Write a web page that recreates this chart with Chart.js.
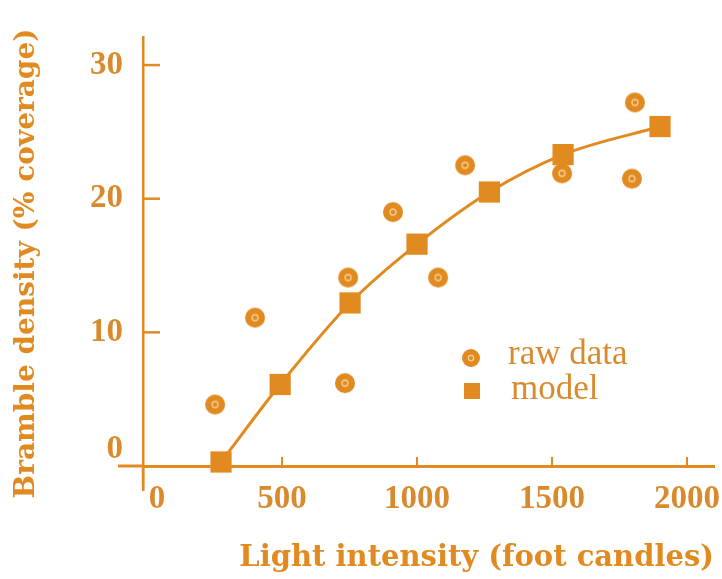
<!DOCTYPE html>
<html>
<head>
<meta charset="utf-8">
<script src="https://cdn.jsdelivr.net/npm/chart.js@4/dist/chart.umd.min.js"></script>
<style>
  html, body { margin: 0; padding: 0; background: #ffffff; }
  #wrap { width: 722px; height: 579px; position: relative; }
</style>
</head>
<body>
<div id="wrap"><canvas id="c" width="722" height="579"></canvas></div>
<script>
// ---- data ----
const rawX   = [252, 400, 745, 733, 911, 1078, 1178, 1537, 1807, 1796];
const rawY   = [4.6, 11.1, 14.1, 6.2, 19.0, 14.1, 22.5, 21.9, 27.2, 21.5];
const modelX = [274, 493, 752, 1000, 1268, 1541, 1900];
const modelY = [0.3, 6.1, 12.2, 16.6, 20.5, 23.3, 25.4];
const xTicks = [0, 500, 1000, 1500, 2000];
const yTicks = [0, 10, 20, 30];
const seriesNames = ['raw data', 'model'];
const xTitle = 'Light intensity (foot candles)';
const yTitle = 'Bramble density (% coverage)';

const ORANGE = '#E08A20';
const TEXTC = '#D98A2E';
const FONT = '"Liberation Serif", "Times New Roman", serif';
const TFONT = '"DejaVu Serif", serif';

// point style for raw data: filled circle with a light speck
function makeDot(r) {
  const s = r * 2 + 2;
  const cv = document.createElement('canvas');
  cv.width = s; cv.height = s;
  const g = cv.getContext('2d');
  g.fillStyle = ORANGE;
  g.beginPath(); g.arc(s / 2, s / 2, r, 0, Math.PI * 2); g.fill();
  g.strokeStyle = '#F7CF98';
  g.lineWidth = 1.3;
  g.beginPath(); g.arc(s / 2, s / 2, r * 0.3, 0, Math.PI * 2); g.stroke();
  return cv;
}
const dotImg = makeDot(10);
const dotSmall = makeDot(9);

const axisExtras = {
  id: 'axisExtras',
  afterLayout(chart) {
    // the y title sits a little lower than the plot centre in the reference
    chart.scales.y.bottom += 24;
  },
  beforeDraw(chart) {
    // nudge the two "0" labels as in the reference
    const ys = chart.scales.y, xs = chart.scales.x;
    ys.getLabelItems().forEach(it => { if (it.label === '0') it.options.translation[1] -= 17; });
    xs.getLabelItems().forEach(it => { if (it.label === '0') it.options.translation[0] += 10; });
  },
  afterDraw(chart) {
    const ctx = chart.ctx;
    const xs = chart.scales.x, ys = chart.scales.y;
    const x0 = xs.getPixelForValue(xs.min);
    const y0 = ys.getPixelForValue(0);
    ctx.save();
    ctx.strokeStyle = ORANGE;
    ctx.lineCap = 'butt';
    // overhangs of the axis lines
    ctx.lineWidth = 2.5;
    ctx.beginPath(); ctx.moveTo(x0, y0); ctx.lineTo(x0, y0 + 21); ctx.stroke();
    ctx.lineWidth = 3;
    ctx.beginPath(); ctx.moveTo(x0 - 25, y0); ctx.lineTo(x0, y0); ctx.stroke();
    // inward y tick marks
    ctx.lineWidth = 2.5;
    ys.ticks.forEach(t => {
      if (t.value === 0) return;
      const p = ys.getPixelForValue(t.value);
      ctx.beginPath(); ctx.moveTo(x0, p); ctx.lineTo(x0 + 17, p); ctx.stroke();
    });
    // upward x tick marks
    ctx.lineWidth = 2;
    xs.ticks.forEach(t => {
      if (t.value === 0) return;
      const p = xs.getPixelForValue(t.value);
      ctx.beginPath(); ctx.moveTo(p, y0); ctx.lineTo(p, y0 - 9); ctx.stroke();
    });
    // legend
    ctx.drawImage(dotSmall, 471 - 10, 358 - 10);
    ctx.fillStyle = ORANGE;
    ctx.fillRect(472 - 8, 391 - 8, 16, 16);
    ctx.font = '35px ' + FONT;
    ctx.textBaseline = 'alphabetic';
    ctx.textAlign = 'left';
    ctx.fillStyle = TEXTC;
    ctx.fillText(seriesNames[0], 508, 364);
    ctx.fillText(seriesNames[1], 511, 399);
    ctx.restore();
  }
};

new Chart(document.getElementById('c'), {
  type: 'scatter',
  data: {
    datasets: [
      {
        label: seriesNames[1],
        data: modelX.map((x, i) => ({ x, y: modelY[i] })),
        showLine: true,
        borderColor: ORANGE,
        borderWidth: 3,
        backgroundColor: ORANGE,
        pointStyle: 'rect',
        pointRadius: 15,
        pointBorderWidth: 0,
        cubicInterpolationMode: 'monotone',
        clip: false
      },
      {
        label: seriesNames[0],
        data: rawX.map((x, i) => ({ x, y: rawY[i] })),
        pointStyle: dotImg,
        pointRadius: 10,
        backgroundColor: ORANGE,
        clip: false
      }
    ]
  },
  options: {
    responsive: false,
    animation: false,
    events: [],
    layout: { autoPadding: false, padding: { top: 37, right: 8, left: 0, bottom: 0 } },
    plugins: { legend: { display: false }, tooltip: { enabled: false } },
    scales: {
      x: {
        type: 'linear',
        min: -15, max: 2100,
        afterFit(s) { s.height = 113; s.paddingLeft = 0; s.paddingRight = 0; },
        afterBuildTicks(s) { s.ticks = xTicks.map(v => ({ value: v })); },
        grid: { display: false, drawTicks: false },
        border: { display: true, color: ORANGE, width: 3 },
        ticks: {
          color: TEXTC,
          font: { family: FONT, size: 33, weight: 'bold' },
          padding: 14,
          maxRotation: 0,
          callback: v => String(v)
        },
        title: {
          display: true, text: xTitle, align: 'end',
          color: ORANGE,
          font: { family: TFONT, size: 29, weight: 'bold' },
          padding: { top: 0, bottom: 3 }
        }
      },
      y: {
        type: 'linear',
        min: 0, max: 32.1,
        afterFit(s) { s.width = 143; s.paddingTop = 0; s.paddingBottom = 0; },
        afterBuildTicks(s) { s.ticks = yTicks.map(v => ({ value: v })); },
        grid: { display: false, drawTicks: false },
        border: { display: true, color: ORANGE, width: 2.5 },
        ticks: {
          color: TEXTC,
          font: { family: FONT, size: 33, weight: 'bold' },
          padding: 20,
          callback: v => String(v)
        },
        title: {
          display: true, text: yTitle,
          color: ORANGE,
          font: { family: TFONT, size: 28, weight: 'bold' },
          padding: { top: 10, bottom: 0 }
        }
      }
    }
  },
  plugins: [axisExtras]
});
</script>
</body>
</html>
